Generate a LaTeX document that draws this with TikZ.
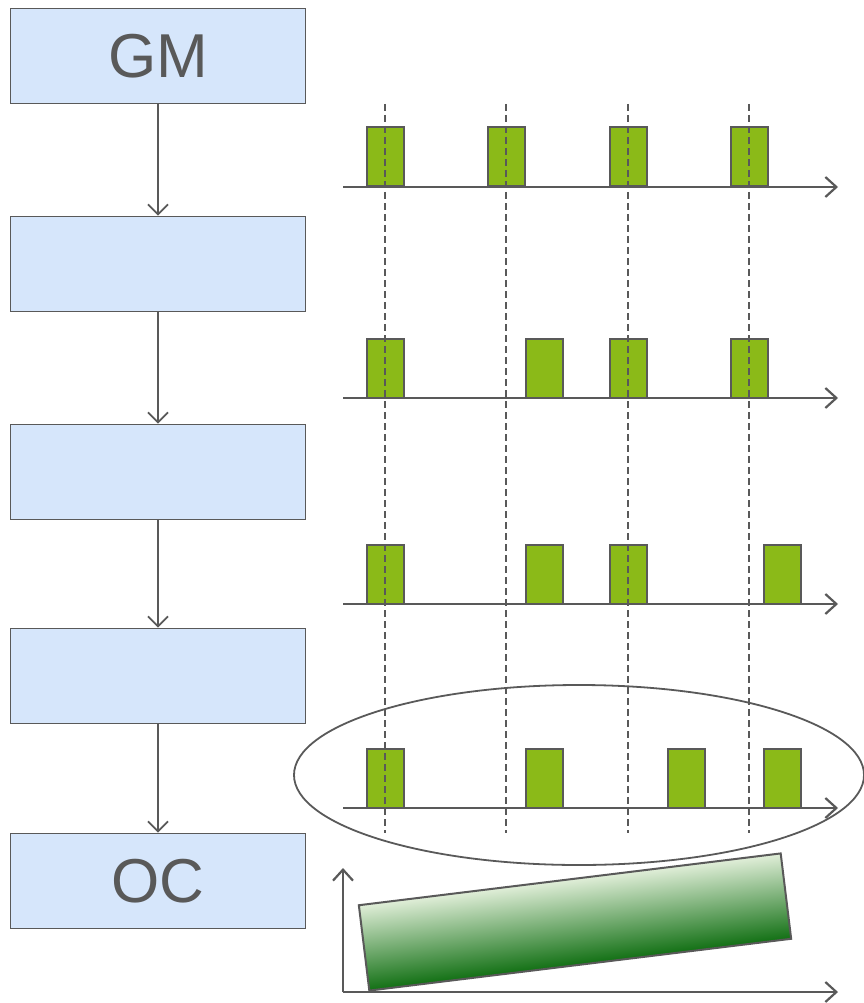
\documentclass[tikz,border=0pt]{standalone}
\usepackage{fontspec}
\setmainfont{Liberation Sans}
\usetikzlibrary{arrows.meta,shapes.geometric}
\definecolor{linegray}{HTML}{595959}
\definecolor{boxblue}{HTML}{D6E6FB}
\definecolor{bargreen}{HTML}{8BBA18}
\definecolor{gtop}{HTML}{E0EED8}
\definecolor{gmid}{HTML}{A2B677}
\definecolor{gbot}{HTML}{127014}
\tikzset{
  flowbox/.style={draw=linegray, line width=1.8pt, fill=boxblue, minimum width=295pt, minimum height=95pt, inner sep=0pt, text=linegray, font=\fontsize{62}{62}\selectfont},
  flowarrow/.style={draw=linegray, line width=1.8pt, -{Straight Barb[length=10pt,width=20pt,line width=1.8pt]}},
  axisline/.style={draw=linegray, line width=2.2pt, -{Straight Barb[length=11pt,width=20pt,line width=2.2pt]}},
  pulse/.style={draw=linegray, line width=2pt, fill=bargreen, minimum width=37pt, minimum height=59pt, inner sep=0pt},
  gridline/.style={draw=linegray, line width=1.8pt, dash pattern=on 7pt off 4pt},
  gradbox/.style={draw=linegray, line width=2pt, minimum width=425pt, minimum height=86pt, inner sep=0pt, top color=gtop, middle color=gmid, bottom color=gbot},
}
\begin{document}
\begin{tikzpicture}[x=1pt,y=-1pt]
\useasboundingbox (0,0) rectangle (863,1003);
% left flow boxes
\node[flowbox] (b1) at (158,56) {GM};
\node[flowbox] (b2) at (158,264) {};
\node[flowbox] (b3) at (158,472) {};
\node[flowbox] (b4) at (158,676) {};
\node[flowbox] (b5) at (158,881) {OC};
\draw[flowarrow] (b1.south) -- (b2.north);
\draw[flowarrow] (b2.south) -- (b3.north);
\draw[flowarrow] (b3.south) -- (b4.north);
\draw[flowarrow] (b4.south) -- (b5.north);
% ellipse
\node[draw=linegray, line width=1.8pt, ellipse, minimum width=570pt, minimum height=180pt, inner sep=0pt] (ell) at (579,775) {};
% axes
\foreach \r/\y in {1/187,2/398,3/604,4/808}{
  \coordinate (a\r s) at (343,\y);
  \coordinate (a\r e) at (838,\y);
}
% pulses row 1
\node[pulse] (p11) at (385,157) {};
\node[pulse] (p12) at (506,157) {};
\node[pulse] (p13) at (628.5,157) {};
\node[pulse] (p14) at (749.5,157) {};
% row 2
\node[pulse] (p21) at (385,368) {};
\node[pulse] (p22) at (544,368) {};
\node[pulse] (p23) at (628.5,368) {};
\node[pulse] (p24) at (749.5,368) {};
% row 3
\node[pulse] (p31) at (385,574) {};
\node[pulse] (p32) at (544,574) {};
\node[pulse] (p33) at (628.5,574) {};
\node[pulse] (p34) at (782,574) {};
% row 4
\node[pulse] (p41) at (385,778) {};
\node[pulse] (p42) at (544,778) {};
\node[pulse] (p43) at (686,778) {};
\node[pulse] (p44) at (782,778) {};
\foreach \r in {1,2,3,4}{
  \draw[axisline] (a\r s) -- (a\r e);
}
% dashed grid lines
\foreach \i/\x in {1/385,2/506,3/628,4/749}{
  \coordinate (d\i t) at (\x,104);
  \coordinate (d\i b) at (\x,833);
  \draw[gridline] (d\i t) -- (d\i b);
}
% bottom chart
\coordinate (o) at (343,992);
\coordinate (ytop) at (343,868);
\coordinate (xend) at (838,992);
\begin{scope}[transform canvas={shift={(575,922)}, rotate=7}]
  \node[gradbox] (grad) at (0,0) {};
\end{scope}
\draw[axisline] (o) -- (ytop);
\draw[axisline] (o) -- (xend);
\end{tikzpicture}
\end{document}
